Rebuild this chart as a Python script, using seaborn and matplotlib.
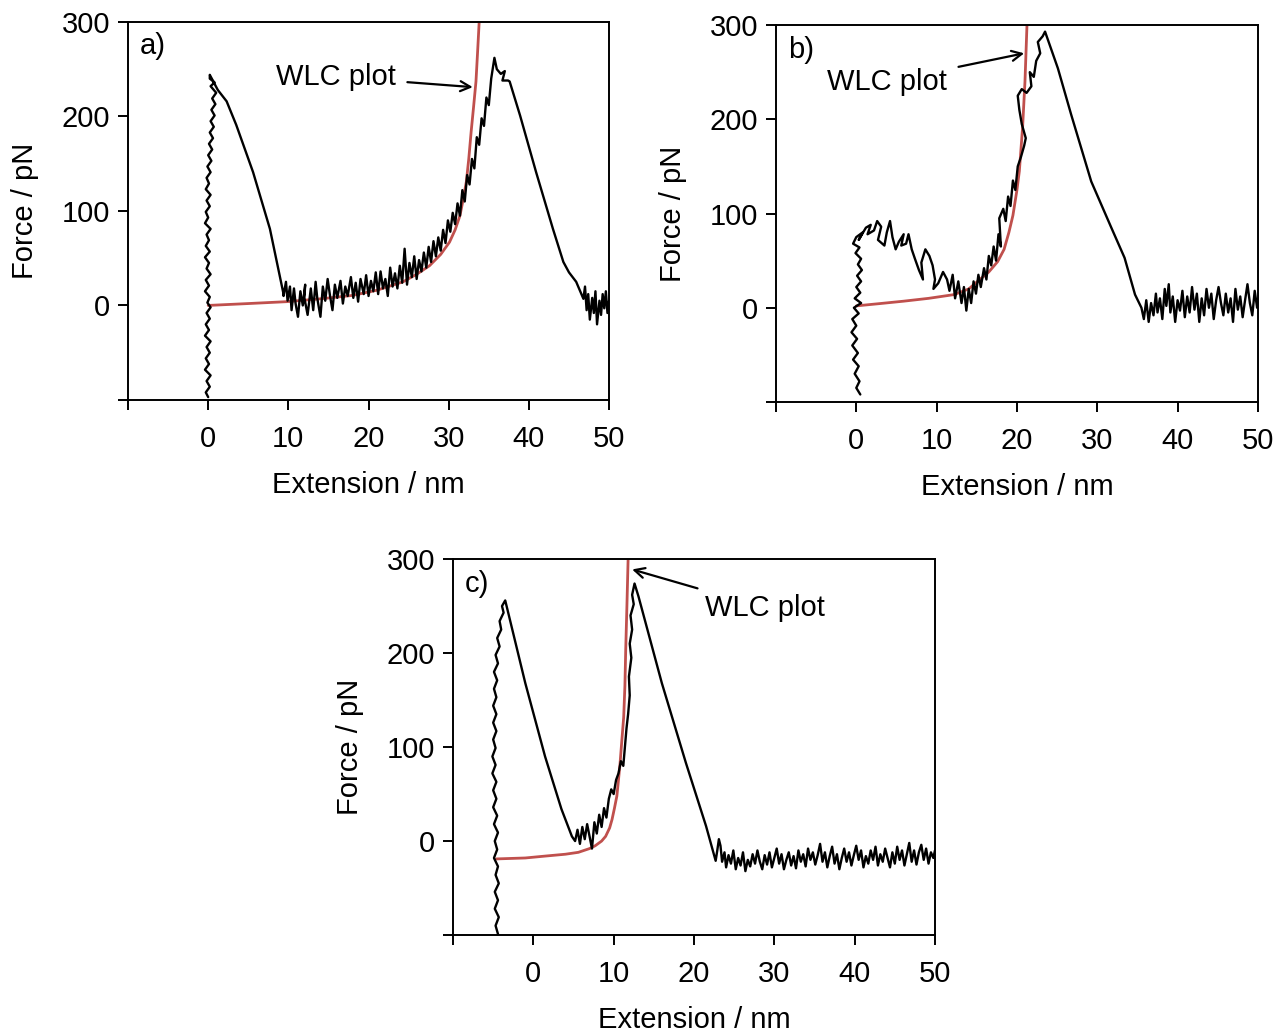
import numpy as np
import pandas as pd
import matplotlib
matplotlib.use("Agg")
import matplotlib.pyplot as plt
import seaborn as sns

# ---- panel a: force-extension trace and WLC fit ----
a_x = [0.0, -0.3, 0.2, -0.2, 0.3, -0.4, 0.1, -0.3, 0.2, -0.2, 0.3, -0.4, 0.1, -0.3, 0.2, -0.2,
       0.3, -0.1, 0.2, -0.4, 0.1, -0.3, 0.3, -0.2, 0.1, -0.4, 0.2, -0.3, 0.1, -0.2, 0.3, -0.4,
       0.0, -0.3, 0.2, -0.2, 0.3, -0.3, 0.1, -0.2, 0.3, -0.1, 0.4, 0.0, 0.5, 0.1, 0.6, 0.2,
       0.7, 0.3, 0.8, 0.4, 0.9, 0.5, 1.0, 0.3, 0.8, 0.2, 0.2,
       1.2, 2.3, 3.5, 5.6, 7.7, 8.9, 9.35,
       9.4, 9.7, 9.9, 10.2, 10.4, 10.7, 10.9, 11.2, 11.5, 11.8, 12.1, 12.0, 12.4, 12.8, 13.1,
       13.4, 13.6, 14.0, 14.3, 14.6, 14.9, 15.2, 15.5, 15.8, 16.1, 16.5, 16.8, 17.1, 17.4, 17.8,
       18.1, 18.4, 18.7, 19.0, 19.4, 19.7, 20.0, 20.3, 20.6, 20.9, 21.2, 21.5, 21.8, 22.1, 22.4,
       22.7, 23.0, 23.3, 23.6, 23.9, 24.2, 24.5, 24.8, 25.1, 25.4, 25.7, 26.0, 26.3, 26.6, 26.9,
       27.2, 27.5, 27.8, 28.1, 28.4, 28.7, 29.0, 29.3, 29.6, 29.9, 30.2, 30.5, 30.8, 31.1, 31.4,
       31.7, 32.0, 32.3, 32.6, 32.9, 33.2, 33.5, 33.8, 34.1, 34.4, 34.7, 35.0, 35.3, 35.7,
       36.0, 36.5, 37.0, 36.7, 37.4, 37.6,
       38.9, 40.9, 43.0, 44.3, 45.0, 45.9, 46.8,
       47.0, 47.2, 47.4, 47.6, 47.9, 48.1, 48.3, 48.5, 48.8, 49.0, 49.2, 49.4, 49.6, 49.8, 50.0]
a_y = [-97, -92, -86, -80, -74, -68, -62, -56, -50, -44, -38, -32, -26, -20, -14, -8,
       -2, 3, 9, 15, 21, 27, 33, 39, 45, 51, 57, 63, 69, 75, 81, 87,
       93, 99, 105, 111, 117, 123, 129, 135, 141, 147, 153, 159, 165, 171, 177, 183,
       189, 195, 201, 207, 213, 219, 225, 232, 236, 240, 244,
       228, 216, 191, 141, 81, 32, 14,
       10, 25, 5, 20, -5, 18, 2, -12, 15, 0, 22, 8, -10, 18, -5,
       25, 8, -12, 20, 5, 28, 10, -5, 22, 8, 26, 2, 20, 10, 30,
       8, 24, 4, 28, 12, 32, 10, 26, 15, 35, 12, 36, 18, 28, 10,
       40, 20, 34, 18, 42, 24, 60, 22, 45, 30, 52, 28, 48, 36, 56,
       40, 62, 46, 68, 52, 72, 58, 80, 66, 90, 78, 98, 86, 108, 95,
       122, 110, 138, 128, 155, 145, 178, 170, 198, 190, 220, 212, 240, 262,
       250, 245, 248, 238, 238, 237,
       201, 141, 81, 46, 35, 25, 7,
       20, -5, 12, -15, 8, -8, 15, -20, 5, -10, 12, -3, 15, -8, 5]
a_fit_x = [0, 5, 9.8, 14, 18, 21, 24.3, 26, 27.6, 29, 30.1, 30.8, 31.4, 31.8, 32.2, 32.5,
           32.8, 33.1, 33.4, 33.6, 33.8]
a_fit_y = [0, 2, 4, 7, 10.6, 16, 25, 33, 42, 54, 67, 80, 95, 112, 131, 155,
           184, 210, 237, 268, 300]

# ---- panel b ----
b_x = [0.5, 0.0, 0.4, -0.2, 0.3, -0.4, 0.2, -0.5, 0.1, -0.6, 0.0, -0.5, 0.3, -0.3, 0.6, -0.2,
       0.5, 0.0, 0.6, 0.1, 0.7, 0.2, 0.6, -0.1, 0.4, -0.4, 0.0, 0.8, 0.3, 1.2, 1.8, 1.4,
       2.2, 2.6, 3.1, 2.7, 3.5, 3.8, 4.2, 4.5, 4.9, 5.3, 5.9, 5.6, 6.2, 6.5, 6.9, 7.3,
       7.8, 8.3, 8.1, 8.6, 9.1, 9.5, 9.8, 9.6, 10.2, 10.8, 11.3, 11.6, 12.0, 12.3, 12.7,
       13.1, 13.4, 13.7, 14.0, 14.3, 14.6, 14.9, 15.2, 15.5, 15.9, 16.2, 16.5, 16.8, 17.1,
       17.4, 17.7, 18.0, 17.8, 18.3, 18.6, 18.9, 19.2, 19.5, 19.8, 20.1, 20.5, 20.9, 21.1,
       20.6, 20.3, 20.1, 20.6, 21.2, 21.8, 21.6, 22.1, 22.4, 22.9, 22.6, 23.2, 23.5,
       25.1, 26.75, 29.25, 31.75, 33.4, 34.0, 34.7, 35.5,
       35.8, 36.1, 36.4, 36.7, 37.0, 37.3, 37.5, 37.8, 38.1, 38.4, 38.6, 38.9, 39.1, 39.4,
       39.7, 40.0, 40.3, 40.6, 40.9, 41.2, 41.5, 41.8, 42.1, 42.4, 42.7, 43.0, 43.3, 43.6,
       43.9, 44.2, 44.5, 44.8, 45.1, 45.4, 45.7, 46.0, 46.3, 46.6, 46.9, 47.2, 47.5, 47.8,
       48.1, 48.4, 48.7, 49.0, 49.3, 49.6, 49.9, 50.0]
b_y = [-92, -85, -78, -70, -62, -55, -48, -40, -33, -26, -19, -12, -6, 0, 5, 10,
       16, 22, 28, 34, 40, 46, 52, 58, 64, 68, 75, 80, 72, 85, 88, 78,
       82, 92, 86, 72, 66, 80, 92, 75, 62, 70, 78, 66, 68, 78, 62, 52,
       40, 30, 48, 62, 55, 45, 30, 20, 26, 38, 30, 18, 35, 10, 28,
       5, 22, -3, 20, 5, 28, 15, 35, 22, 42, 30, 55, 45, 65,
       50, 78, 65, 95, 105, 92, 118, 108, 135, 125, 150, 160, 172, 180,
       195, 210, 225, 232, 228, 235, 250, 245, 262, 270, 282, 288, 293,
       254, 205, 134, 85, 53, 35, 14, 0,
       -12, 8, -15, 5, -8, 15, -5, 10, -12, 20, 2, 25, -5, 12,
       -15, 8, -3, 18, -10, 12, -5, 22, -2, 15, -15, 10, -8, 20,
       0, 15, -12, 8, 22, 5, -8, 15, -5, 10, -15, 20, -2, 12,
       -10, 8, 25, 5, -8, 18, 0, 10]
b_fit_x = [0, 3, 5.9, 9, 12.2, 14, 15.1, 16.5, 17.6, 18.4, 19.0, 19.5, 20.0, 20.3, 20.7,
           21.0, 21.25]
b_fit_y = [2, 4.5, 7, 10, 14, 20, 28, 38, 49, 62, 80, 98, 125, 145, 191, 240, 300]

# ---- panel c ----
c_x = [-4.4, -4.7, -4.3, -4.8, -4.4, -4.8, -4.3, -4.7, -4.4, -4.9, -4.5, -4.8, -4.4, -4.9,
       -4.5, -5.0, -4.6, -5.0, -4.6, -5.1, -4.7, -5.1, -4.7, -5.0, -4.6, -5.0, -4.6, -5.0,
       -4.6, -4.9, -4.5, -4.9, -4.4, -4.7, -4.2, -4.5, -4.0, -4.2, -3.7, -3.9, -3.5,
       -3.1, -1.0, 1.46, 3.5, 4.8, 5.2,
       5.5, 5.8, 6.1, 6.4, 6.7, 7.0, 7.3, 7.6, 7.9, 8.2, 8.5, 8.8, 9.1, 9.4, 9.7, 10.0,
       10.3, 10.6, 10.9, 11.2, 11.4, 11.6, 11.8, 12.0, 11.9, 12.2, 12.0, 12.3, 12.1, 12.5,
       12.3, 12.6,
       13.1, 16.0, 19.0, 21.5, 22.7,
       22.9, 23.1, 23.3, 23.5, 23.8, 24.0, 24.3, 24.6, 24.9, 25.2, 25.5, 25.8, 26.1, 26.4,
       26.7, 27.0, 27.3, 27.6, 27.9, 28.2, 28.5, 28.8, 29.1, 29.4, 29.7, 30.0, 30.3, 30.6,
       30.9, 31.2, 31.5, 31.8, 32.1, 32.4, 32.7, 33.0, 33.3, 33.6, 33.9, 34.2, 34.5, 34.8,
       35.1, 35.4, 35.7, 36.0, 36.3, 36.6, 36.9, 37.2, 37.5, 37.8, 38.1, 38.4, 38.7, 39.0,
       39.3, 39.6, 39.9, 40.2, 40.5, 40.8, 41.1, 41.4, 41.7, 42.0, 42.3, 42.6, 42.9, 43.2,
       43.5, 43.8, 44.1, 44.4, 44.7, 45.0, 45.3, 45.6, 45.9, 46.2, 46.5, 46.8, 47.1, 47.4,
       47.7, 48.0, 48.3, 48.6, 48.9, 49.2, 49.5, 49.8, 50.0]
c_y = [-99, -90, -81, -72, -63, -54, -45, -36, -27, -18, -9, 0, 9, 18,
       27, 36, 45, 54, 63, 72, 81, 90, 99, 108, 117, 126, 135, 144,
       153, 162, 171, 180, 189, 198, 207, 216, 225, 234, 243, 250, 256,
       242, 168, 90, 34, 5, 0,
       12, -3, 15, 2, 18, 5, -8, 20, 8, 28, 15, 35, 25, 45, 55, 50,
       65, 72, 85, 80, 100, 120, 135, 155, 175, 195, 210, 225, 240, 252,
       262, 274,
       260, 168, 83, 16, -21,
       -10, 2, -5, -22, -12, -28, -15, -24, -10, -30, -18, -26, -12, -32,
       -20, -27, -14, -24, -10, -22, -30, -15, -25, -12, -28, -18, -8, -24,
       -14, -30, -20, -12, -26, -16, -29, -10, -22, -14, -27, -8, -20, -12,
       -25, -15, -3, -22, -12, -28, -16, -6, -24, -14, -30, -18, -8, -22,
       -12, -26, -15, -5, -20, -10, -28, -16, -24, -10, -20, -6, -26, -14,
       -22, -8, -18, -28, -12, -24, -6, -20, -10, -26, -14, -2, -22, -10,
       -25, -12, -4, -20, -8, -24, -12, -18, -10]
c_fit_x = [-4.6, -1, 1.46, 4, 5.6, 7.0, 7.7, 8.5, 9.0, 9.5, 9.8, 10.1, 10.4, 10.6, 10.8,
           11.0, 11.25, 11.4, 11.5, 11.65, 11.8]
c_fit_y = [-19, -18, -16, -14, -12, -8, -5, 0, 5, 14, 23, 35, 48, 65, 83,
           105, 132, 165, 203, 250, 300]

x_ticks = [-10, 0, 10, 20, 30, 40, 50]
x_labels = ["", "0", "10", "20", "30", "40", "50"]
y_ticks = [-100, 0, 100, 200, 300]
y_labels = ["", "0", "100", "200", "300"]

sns.set_style("ticks")
plt.rcParams["font.family"] = ["Liberation Sans", "DejaVu Sans"]
plt.rcParams.update({"text.color": "black", "axes.labelcolor": "black",
                     "xtick.color": "black", "ytick.color": "black",
                     "axes.edgecolor": "black"})

fig = plt.figure(figsize=(12.75, 10.34), dpi=100)
ax_a = fig.add_axes([0.1004, 0.6132, 0.3773, 0.3656])
ax_b = fig.add_axes([0.6086, 0.6112, 0.378, 0.3646])
ax_c = fig.add_axes([0.3553, 0.0957, 0.378, 0.3636])

red = "#c0504d"
fs = 21


def panel(ax, x, y, fx, fy, tag):
    sns.lineplot(x=fx, y=fy, ax=ax, sort=False, estimator=None, color=red, lw=2.0)
    sns.lineplot(x=x, y=y, ax=ax, sort=False, estimator=None, color="black", lw=1.7)
    ax.set_xlim(-10, 50)
    ax.set_ylim(-100, 300)
    ax.set_xticks(x_ticks)
    ax.set_xticklabels(x_labels)
    ax.set_yticks(y_ticks)
    ax.set_yticklabels(y_labels)
    ax.tick_params(length=7, width=1.4, labelsize=fs)
    ax.tick_params(axis="x", pad=11)
    ax.tick_params(axis="y", pad=6)
    for s in ax.spines.values():
        s.set_linewidth(1.4)
    ax.set_xlabel("Extension / nm", fontsize=fs, labelpad=13)
    ax.set_ylabel("Force / pN", fontsize=fs, labelpad=16)
    ax.text(0.025, 0.935, tag, transform=ax.transAxes, fontsize=fs, va="center", ha="left")


panel(ax_a, a_x, a_y, a_fit_x, a_fit_y, "a)")
panel(ax_b, b_x, b_y, b_fit_x, b_fit_y, "b)")
panel(ax_c, c_x, c_y, c_fit_x, c_fit_y, "c)")

arrow = dict(arrowstyle="->", color="black", lw=1.6, shrinkA=6, shrinkB=0,
             mutation_scale=18)
ax_a.annotate("WLC plot", xy=(33.0, 231), xytext=(23.4, 242), ha="right", va="center",
              fontsize=fs, arrowprops=arrow)
ax_b.annotate("WLC plot", xy=(20.9, 270), xytext=(11.3, 240), ha="right", va="center",
              fontsize=fs, arrowprops=arrow)
ax_c.annotate("WLC plot", xy=(12.3, 289), xytext=(21.4, 248), ha="left", va="center",
              fontsize=fs, arrowprops=arrow)

fig.savefig("out.png", dpi=100)
